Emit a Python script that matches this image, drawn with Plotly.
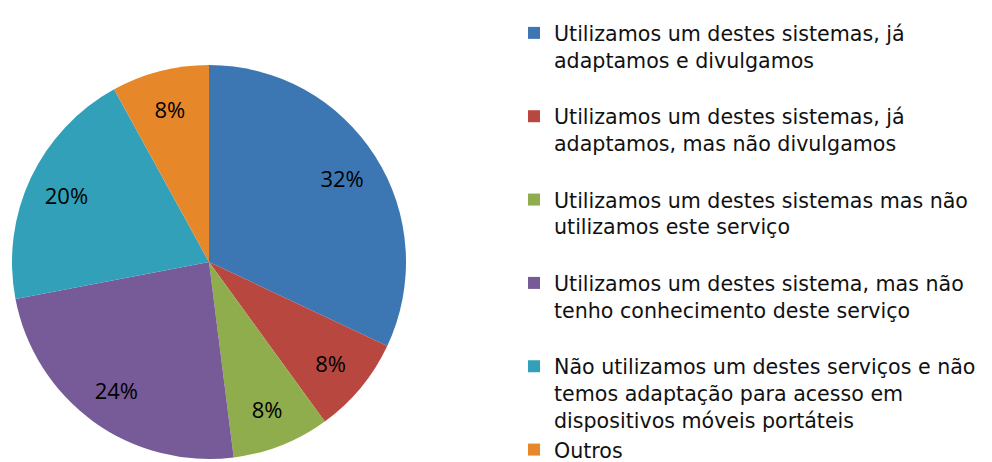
import plotly.graph_objects as go

labels = [
    "Utilizamos um destes sistemas, já<br>adaptamos e divulgamos<br> ",
    "Utilizamos um destes sistemas, já<br>adaptamos, mas não divulgamos<br> ",
    "Utilizamos um destes sistemas mas não<br>utilizamos este serviço<br> ",
    "Utilizamos um destes sistema, mas não<br>tenho conhecimento deste serviço<br> ",
    "Não utilizamos um destes serviços e não<br>temos adaptação para acesso em<br>dispositivos móveis portáteis",
    "Outros",
]
values = [32, 8, 8, 24, 20, 8]
colors = ["#3d77b3", "#b8473f", "#8fad4c", "#775b98", "#31a0b8", "#e6882a"]

# body margin of the page is 8px; compensate
OFF = 8
W, H = 992, 462
dom = dict(x=[(12 - OFF) / W, (406 - OFF) / W],
           y=[(H - (459 - OFF)) / H, (H - (65 - OFF)) / H])

fig = go.Figure()
fig.add_trace(go.Pie(
    labels=labels,
    values=values,
    sort=False,
    direction="clockwise",
    rotation=0,
    marker=dict(colors=colors, line=dict(width=0)),
    textinfo="none",
    domain=dom,
    hoverinfo="label+percent",
))
# transparent ring carrying the percentage labels
fig.add_trace(go.Pie(
    labels=labels,
    values=values,
    sort=False,
    direction="clockwise",
    rotation=0,
    hole=0.6,
    marker=dict(colors=["rgba(0,0,0,0)"] * len(values), line=dict(width=0)),
    texttemplate="%{percent:.0%}",
    textposition="inside",
    insidetextorientation="horizontal",
    textfont=dict(family="Open Sans", size=22, color="black"),
    domain=dom,
    showlegend=False,
    hoverinfo="skip",
))

fig.update_layout(
    width=W, height=H,
    margin=dict(l=0, r=0, t=0, b=0),
    paper_bgcolor="white",
    plot_bgcolor="white",
    font=dict(family="Open Sans", color="black"),
    showlegend=True,
    legend=dict(
        x=(514 - OFF) / W, y=1 - (24 - OFF) / H, xanchor="left", yanchor="top",
        font=dict(family="DejaVu Sans", size=20.6, color="#111111"),
        valign="top",
        bgcolor="rgba(0,0,0,0)",
        itemclick=False,
        maxheight=2000,
    ),
)

fig.write_html("out.html")
